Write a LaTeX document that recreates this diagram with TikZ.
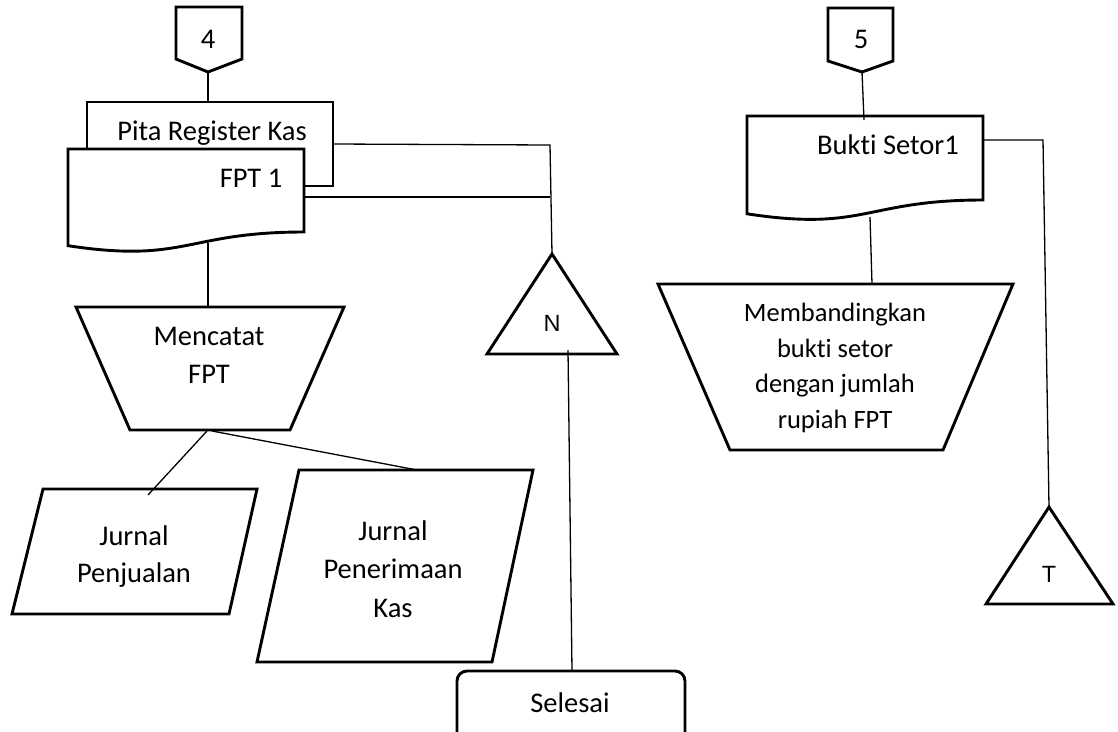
\documentclass[tikz,border=0pt]{standalone}
\usepackage{fontspec}
\newfontfamily\bodyfont{Carlito}[Ligatures=NoCommon]
\newfontfamily\flagfont{Liberation Sans}
\begin{document}
\begin{tikzpicture}[x=1pt,y=-1pt,
  outline/.style={draw=black, line width=2.9pt, fill=white, line join=miter},
  link/.style={draw=black, line width=1.3pt},
  txt/.style={inner sep=0pt, align=center, font=\bodyfont\fontsize{28.5}{38}\selectfont},
  smalltxt/.style={inner sep=0pt, align=center, font=\bodyfont\fontsize{26.5}{35.5}\selectfont},
  flagtxt/.style={inner sep=0pt, font=\flagfont\fontsize{23.5}{28}\selectfont}]
\useasboundingbox (0,0) rectangle (1118,731);
\clip (0,0) rectangle (1118,731);

% ---------- left column ----------
% off-page connector 4
\draw[outline] (176,7) -- (242,7) -- (242,59) -- (208,72) -- (176,59) -- cycle;
\node[txt] (c4) at (208,39) {4};
% paper tape behind the first copy of the invoice
\draw[outline] (87,102) rectangle (333,186);
\node[txt, anchor=base] (pita) at (212,140) {Pita Register Kas};
% document FPT 1
\draw[outline] (68,149) -- (304,149) -- (304,232)
  .. controls (186,232) and (186,263.6) .. (68,245.7) -- cycle;
\node[txt, anchor=base] (fpt) at (251,187) {FPT 1};
% manual operation
\draw[outline] (76,307) -- (344,307) -- (290,430) -- (130,430) -- cycle;
\node[txt] (mencatat) at (209,355) {Mencatat\\FPT};
% journals
\draw[outline] (43,489) -- (257,489) -- (229,614) -- (12,614) -- cycle;
\node[txt, font=\bodyfont\fontsize{28.5}{37}\selectfont] (jpj) at (134,557) {Jurnal\\Penjualan};
\draw[outline] (299,470) -- (533,470) -- (492,662) -- (257,662) -- cycle;
\node[txt, font=\bodyfont\fontsize{28.5}{38.5}\selectfont] (jpk) at (393,569) {Jurnal\\Penerimaan\\Kas};
% file N
\draw[outline] (552,254) -- (617,354) -- (487,354) -- cycle;
\node[flagtxt, anchor=base] (fileN) at (552,331) {N};
% terminator
\draw[outline, rounded corners=10pt] (457,671) rectangle (685,760);
\node[txt, anchor=base] (selesai) at (570,712) {Selesai};

% ---------- right column ----------
% off-page connector 5
\draw[outline] (828,8) -- (893,8) -- (893,61) -- (862,72) -- (828,61) -- cycle;
\node[txt] (c5) at (861,39) {5};
% document Bukti Setor 1
\draw[outline] (747,116) -- (983,116) -- (983,200)
  .. controls (865,200) and (865,231.9) .. (747,213.8) -- cycle;
\node[txt, anchor=base] (bukti) at (888,154) {Bukti Setor1};
% manual operation
\draw[outline] (658,284) -- (1013,284) -- (943,450) -- (730,450) -- cycle;
\node[smalltxt] (banding) at (835,368) {Membandingkan\\bukti setor\\dengan jumlah\\rupiah FPT};
% file T
\draw[outline] (1049,507) -- (1113,604) -- (986,604) -- cycle;
\node[flagtxt, anchor=base] (fileT) at (1049,582) {T};

% ---------- connection points ----------
\coordinate (c4-tip) at (208,72);
\coordinate (pita-top) at (208,102);
\coordinate (pita-out) at (333,144);
\coordinate (fpt-out) at (304,197);
\coordinate (fpt-bottom) at (208,243);
\coordinate (mencatat-top) at (208,307);
\coordinate (mencatat-bl) at (207,431);
\coordinate (mencatat-br) at (212,431);
\coordinate (jpj-top) at (148,495);
\coordinate (jpk-top) at (417,470);
\coordinate (n-join) at (550,145);
\coordinate (N-apex) at (552,254);
\coordinate (N-base) at (568,350);
\coordinate (selesai-top) at (572,671);
\coordinate (c5-tip) at (862,72);
\coordinate (bukti-top) at (864,120);
\coordinate (bukti-out) at (983,140);
\coordinate (t-join) at (1043,140);
\coordinate (T-apex) at (1049,507);
\coordinate (bukti-bottom) at (870,217);
\coordinate (banding-top) at (872,284);

% ---------- connectors ----------
\draw[link] (c4-tip) -- (pita-top);
\draw[link] (pita-out) -- (n-join) -- (N-apex);
\draw[link] (fpt-out) -- (fpt-out -| n-join);
\draw[link] (N-base) -- (selesai-top);
\draw[link] (fpt-bottom) -- (mencatat-top);
\draw[link] (mencatat-bl) -- (jpj-top);
\draw[link] (mencatat-br) -- (jpk-top);
\draw[link] (c5-tip) -- (bukti-top);
\draw[link] (bukti-out) -- (t-join) -- (T-apex);
\draw[link] (bukti-bottom) -- (banding-top);
\end{tikzpicture}
\end{document}
